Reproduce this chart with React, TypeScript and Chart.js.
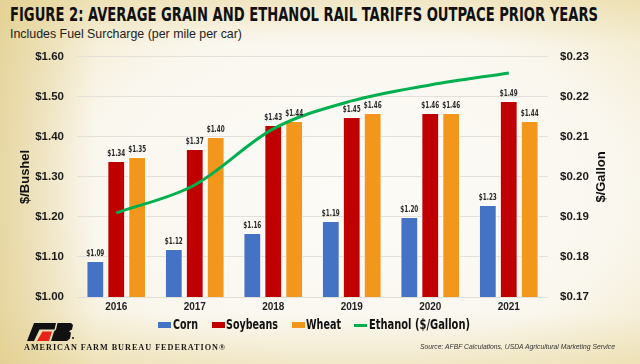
import React, { useEffect, useRef } from "react";
import { Chart, registerables } from "chart.js";

Chart.register(...registerables);

const years = ["2016", "2017", "2018", "2019", "2020", "2021"];
const corn = [1.09, 1.12, 1.16, 1.19, 1.2, 1.23];
const soybeans = [1.34, 1.37, 1.43, 1.45, 1.46, 1.49];
const wheat = [1.35, 1.4, 1.44, 1.46, 1.46, 1.44];
const ethanol = [0.191, 0.198, 0.212, 0.219, 0.223, 0.226];

const seriesNames = ["Corn", "Soybeans", "Wheat", "Ethanol ($/Gallon)"];
const leftAxisTitle = "$/Bushel";
const rightAxisTitle = "$/Gallon";
const titleText = "FIGURE 2: AVERAGE GRAIN AND ETHANOL RAIL TARIFFS OUTPACE PRIOR YEARS";
const subtitleText = "Includes Fuel Surcharge (per mile per car)";
const sourceText = "Source: AFBF Calculations, USDA Agricultural Marketing Service";
const orgText = "AMERICAN FARM BUREAU FEDERATION\u00AE";

const BLUE = "#4472c4";
const RED = "#c00000";
const ORANGE = "#f2961c";
const GREEN = "#00b04f";
const seriesColors = [BLUE, RED, ORANGE, GREEN];

const COND = '"Liberation Sans Narrow", "DejaVu Sans Condensed", "Liberation Sans", Arial, sans-serif';
const SANS = '"Liberation Sans", Arial, sans-serif';

const barLabels = {
  id: "barLabels",
  afterDatasetsDraw(chart: any) {
    const ctx = chart.ctx;
    ctx.save();
    ctx.font = `bold 9px ${COND}`;
    ctx.fillStyle = "#2a2a2a";
    ctx.textAlign = "center";
    ctx.textBaseline = "bottom";
    chart.data.datasets.forEach((ds: any, i: number) => {
      if (ds.type === "line") return;
      const meta = chart.getDatasetMeta(i);
      meta.data.forEach((el: any, j: number) => {
        const txt = "$" + Number(ds.data[j]).toFixed(2);
        const w = ctx.measureText(txt).width;
        const sx = Math.min(1, 18 / w);
        ctx.save();
        ctx.translate(el.x, el.y - 3);
        ctx.scale(sx, 1);
        ctx.fillText(txt, 0, 0);
        ctx.restore();
      });
    });
    ctx.restore();
  },
};

const rightTitle = {
  id: "rightTitle",
  afterDraw(chart: any) {
    const ctx = chart.ctx;
    const a = chart.chartArea;
    ctx.save();
    ctx.translate(a.right + 53, (a.top + a.bottom) / 2);
    ctx.rotate(-Math.PI / 2);
    ctx.font = `bold 13px ${SANS}`;
    ctx.fillStyle = "#111";
    ctx.textAlign = "center";
    ctx.textBaseline = "middle";
    ctx.fillText(rightAxisTitle, 0, 0);
    ctx.restore();
  },
};

function FitText(props: { text: string; width: number; style: React.CSSProperties }) {
  const ref = useRef<HTMLSpanElement>(null);
  useEffect(() => {
    const el = ref.current;
    if (!el) return;
    el.style.transform = "none";
    const w = el.getBoundingClientRect().width;
    if (w > 0) el.style.transform = `scaleX(${props.width / w})`;
  }, [props.text, props.width]);
  return (
    <span
      ref={ref}
      style={{
        position: "absolute",
        whiteSpace: "nowrap",
        display: "inline-block",
        transformOrigin: "left center",
        ...props.style,
      }}
    >
      {props.text}
    </span>
  );
}

const legendMarkerX = [158, 212, 292, 354];
const legendTextX = [173, 226, 306, 369];
const legendTextW = [25, 52, 35, 101];

function Legend() {
  return (
    <>
      {seriesNames.map((name, i) => (
        <React.Fragment key={name}>
          <div
            style={{
              position: "absolute",
              left: legendMarkerX[i],
              top: i === 3 ? 324 : 322,
              width: 13,
              height: i === 3 ? 2.5 : 6,
              background: seriesColors[i],
            }}
          />
          <FitText
            text={name}
            width={legendTextW[i]}
            style={{
              left: legendTextX[i],
              top: 316,
              fontFamily: COND,
              fontWeight: "bold",
              fontSize: 14,
              lineHeight: "17px",
              color: "#111",
            }}
          />
        </React.Fragment>
      ))}
    </>
  );
}

export default function App() {
  const canvasRef = useRef<HTMLCanvasElement>(null);

  useEffect(() => {
    if (!canvasRef.current) return;
    const chart = new Chart(canvasRef.current, {
      type: "bar",
      data: {
        labels: years,
        datasets: [
          {
            type: "bar",
            label: seriesNames[0],
            data: corn,
            backgroundColor: BLUE,
            borderColor: "rgba(255,255,255,0.75)",
            borderWidth: 1,
            yAxisID: "y",
            order: 1,
          },
          {
            type: "bar",
            label: seriesNames[1],
            data: soybeans,
            backgroundColor: RED,
            borderColor: "rgba(255,255,255,0.75)",
            borderWidth: 1,
            yAxisID: "y",
            order: 1,
          },
          {
            type: "bar",
            label: seriesNames[2],
            data: wheat,
            backgroundColor: ORANGE,
            borderColor: "rgba(255,255,255,0.75)",
            borderWidth: 1,
            yAxisID: "y",
            order: 1,
          },
          {
            type: "line",
            label: seriesNames[3],
            data: ethanol,
            borderColor: GREEN,
            backgroundColor: GREEN,
            borderWidth: 3,
            pointRadius: 0,
            cubicInterpolationMode: "monotone",
            yAxisID: "y1",
            order: 0,
          },
        ] as any,
      },
      options: {
        responsive: false,
        animation: false,
        layout: { padding: { left: 14, right: 0, top: 12, bottom: 20 } },
        datasets: { bar: { categoryPercentage: 0.8, barPercentage: 0.85 } } as any,
        scales: {
          x: {
            grid: { display: false, drawTicks: false },
            border: { display: false },
            ticks: { color: "#222", font: { family: SANS, size: 10, weight: "bold" }, padding: 4 },
          },
          y: {
            position: "left",
            min: 1.0,
            max: 1.6,
            afterFit: (s: any) => {
              s.width = 63;
            },
            ticks: {
              stepSize: 0.1,
              color: "#1a1a1a",
              padding: 13,
              font: { family: SANS, size: 11.5, weight: "bold" },
              callback: (v: any) => "$" + Number(v).toFixed(2),
            },
            grid: { color: "#e3e0d9", drawTicks: false },
            border: { display: false },
            title: {
              display: true,
              text: leftAxisTitle,
              color: "#111",
              font: { family: SANS, size: 13, weight: "bold" },
              padding: { top: 4, bottom: 4 },
            },
          },
          y1: {
            position: "right",
            min: 0.17,
            max: 0.23,
            afterFit: (s: any) => {
              s.width = 92;
            },
            ticks: {
              stepSize: 0.01,
              color: "#1a1a1a",
              padding: 12,
              font: { family: SANS, size: 11.5, weight: "bold" },
              callback: (v: any) => "$" + Number(v).toFixed(2),
            },
            grid: { display: false, drawTicks: false },
            border: { display: false },
          },
        },
        plugins: {
          legend: { display: false },
          tooltip: { enabled: false },
          title: { display: false },
        },
      } as any,
      plugins: [barLabels, rightTitle],
    });
    return () => chart.destroy();
  }, []);

  return (
    <div
      style={{
        position: "absolute",
        left: 0,
        top: 0,
        width: 640,
        height: 364,
        overflow: "hidden",
        background:
          "linear-gradient(to right, rgba(222,200,130,0.6) 0%, rgba(222,200,130,0) 15%), linear-gradient(to bottom, rgba(230,212,150,0.4) 0%, rgba(230,212,150,0) 12%, rgba(230,212,150,0) 86%, rgba(230,212,150,0.4) 100%), radial-gradient(ellipse 70% 75% at 55% 52%, #fcfbf7 0%, #faf7ef 60%, #f1e6c0 100%)",
        fontFamily: SANS,
      }}
    >
      <FitText
        text={titleText}
        width={588}
        style={{ left: 10, top: 3, fontFamily: COND, fontWeight: "bold", fontSize: 20, color: "#111", lineHeight: "22px" }}
      />
      <FitText
        text={subtitleText}
        width={232}
        style={{ left: 10, top: 26, fontFamily: SANS, fontSize: 13, color: "#222", lineHeight: "16px" }}
      />
      <canvas
        ref={canvasRef}
        width={640}
        height={300}
        style={{ position: "absolute", left: 0, top: 37, width: 640, height: 300, display: "block" }}
      />
      <Legend />
      <div style={{ position: "absolute", left: 26, top: 322, width: 50, height: 20 }}>
        <div
          style={{
            position: "absolute",
            inset: 0,
            background: "#111",
            clipPath: "polygon(16% 5%, 60% 5%, 57% 38%, 27% 38%, 16% 95%, 2% 95%)",
          }}
        />
        <div
          style={{
            position: "absolute",
            inset: 0,
            background: "#e8221b",
            clipPath: "polygon(33% 48%, 52% 48%, 46% 95%, 22% 95%)",
          }}
        />
        <div
          style={{
            position: "absolute",
            inset: 0,
            background: "#111",
            clipPath:
              "polygon(63% 5%, 90% 5%, 94% 15%, 92% 38%, 86% 46%, 90% 54%, 88% 82%, 82% 95%, 50% 95%, 56% 48%, 60% 38%)",
          }}
        />
        <div
          style={{
            position: "absolute",
            left: 46,
            top: 15,
            width: 2,
            height: 2,
            borderRadius: 1,
            background: "#111",
          }}
        />
      </div>
      <FitText
        text={orgText}
        width={202}
        style={{
          left: 24,
          top: 342,
          fontFamily: '"Liberation Serif", "DejaVu Serif", serif',
          fontWeight: "bold",
          fontSize: 8.5,
          letterSpacing: 1,
          color: "#1a1a1a",
          lineHeight: "10px",
        }}
      />
      <FitText
        text={sourceText}
        width={195}
        style={{
          left: 420,
          top: 342,
          fontFamily: SANS,
          fontStyle: "italic",
          fontSize: 8,
          color: "#333",
          lineHeight: "10px",
        }}
      />
    </div>
  );
}
